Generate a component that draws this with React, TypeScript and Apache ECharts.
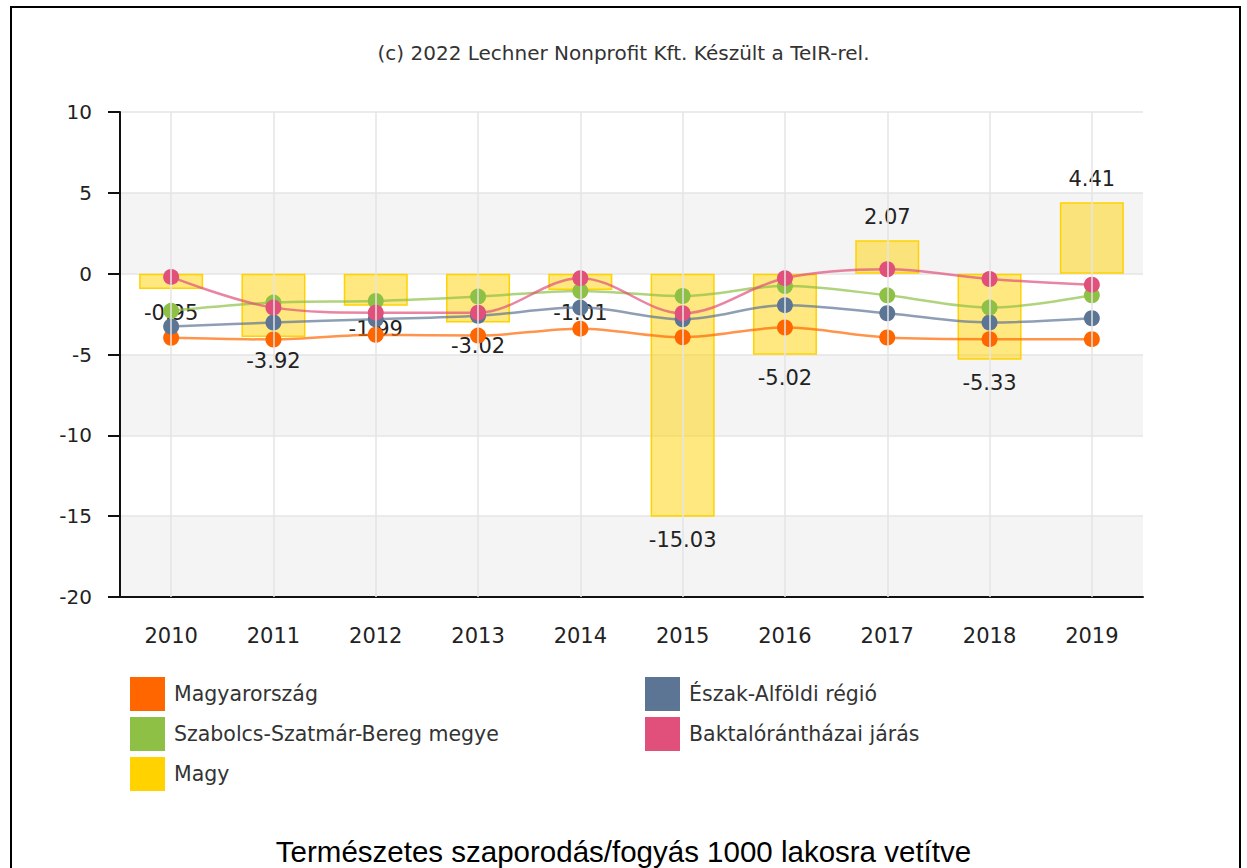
import React, { useEffect, useRef } from "react";
import * as echarts from "echarts";

const years = ["2010", "2011", "2012", "2013", "2014", "2015", "2016", "2017", "2018", "2019"];
const magyarorszag = [-3.97, -4.07, -3.78, -3.83, -3.4, -3.93, -3.33, -3.95, -4.05, -4.05];
const eszakAlfold = [-3.27, -3.02, -2.82, -2.61, -2.1, -2.82, -1.95, -2.45, -3.02, -2.76];
const szabolcs = [-2.3, -1.79, -1.69, -1.42, -1.07, -1.38, -0.76, -1.34, -2.1, -1.34];
const baktalo = [-0.2, -2.1, -2.41, -2.41, -0.28, -2.45, -0.28, 0.27, -0.33, -0.68];
const magy = [-0.95, -3.92, -1.99, -3.02, -1.01, -15.03, -5.02, 2.07, -5.33, 4.41];

const NAMES = {
  hu: "Magyarország",
  ea: "Észak-Alföldi régió",
  sz: "Szabolcs-Szatmár-Bereg megye",
  bj: "Baktalórántházai járás",
  mg: "Magy",
};

const COLORS = {
  hu: "#FF6600",
  ea: "#5C7595",
  sz: "#8FC046",
  bj: "#E0507A",
  mg: "#FFD200",
};

const FONT = "DejaVu Sans, Verdana, sans-serif";

export default function App() {
  const ref = useRef<HTMLDivElement>(null);

  useEffect(() => {
    if (!ref.current) return;
    const chart = echarts.init(ref.current, null, { renderer: "svg" });

    const lineSeries = (key: "hu" | "ea" | "sz" | "bj", data: number[]) => ({
      name: NAMES[key],
      type: "line",
      data,
      smooth: 0.35,
      symbol: "circle",
      symbolSize: 16,
      z: 3,
      itemStyle: { color: COLORS[key] },
      lineStyle: { color: COLORS[key], width: 2.5, opacity: 0.7 },
    });

    const legendText = { fontSize: 20.5, color: "#333", fontFamily: FONT, padding: [0, 0, 0, 4] };

    const option: any = {
      animation: false,
      backgroundColor: "#ffffff",
      grid: { left: 120, right: 104, top: 112, bottom: 271, containLabel: false },
      xAxis: {
        type: "category",
        data: years,
        boundaryGap: true,
        axisLine: { onZero: false, lineStyle: { color: "#111", width: 2 } },
        axisTick: { alignWithLabel: true, length: 9, lineStyle: { color: "#111", width: 2 } },
        axisLabel: { margin: 28, fontSize: 21, color: "#222", fontFamily: FONT },
        splitLine: { show: false },
      },
      yAxis: {
        type: "value",
        min: -20,
        max: 10,
        interval: 5,
        axisLine: { show: true, lineStyle: { color: "#111", width: 2 } },
        axisTick: { show: true, length: 12, lineStyle: { color: "#111", width: 2 } },
        axisLabel: { margin: 28, fontSize: 20, color: "#222", fontFamily: FONT },
        splitLine: { show: true, lineStyle: { color: "#e4e4e4", width: 1.5 } },
        splitArea: { show: true, areaStyle: { color: ["#f4f4f4", "#ffffff"] } },
      },
      legend: [
        {
          left: 130,
          top: 677,
          padding: 0,
          orient: "vertical",
          icon: "rect",
          itemWidth: 35,
          itemHeight: 34,
          itemGap: 6,
          selectedMode: false,
          data: [
            NAMES.hu,
            NAMES.sz,
            { name: NAMES.mg, itemStyle: { color: COLORS.mg, borderWidth: 0 } },
          ],
          textStyle: legendText,
        },
        {
          left: 645,
          top: 677,
          padding: 0,
          orient: "vertical",
          icon: "rect",
          itemWidth: 35,
          itemHeight: 34,
          itemGap: 6,
          selectedMode: false,
          data: [NAMES.ea, NAMES.bj],
          textStyle: legendText,
        },
      ],
      graphic: [
        {
          type: "rect",
          silent: true,
          shape: { x: 11, y: 7, width: 1229, height: 900 },
          style: { fill: "none", stroke: "#000", lineWidth: 2 },
          z: 100,
        },
        {
          type: "text",
          left: "center",
          top: 43,
          style: {
            text: "(c) 2022 Lechner Nonprofit Kft. Készült a TeIR-rel.",
            fontSize: 20,
            fontFamily: FONT,
            fill: "#333",
          },
        },
        {
          type: "text",
          left: "center",
          top: 836,
          style: {
            text: "Természetes szaporodás/fogyás 1000 lakosra vetítve",
            fontSize: 29.5,
            fontFamily: "Liberation Sans, Arial, sans-serif",
            fill: "#000",
          },
        },
      ],
      series: [
        {
          name: "grid-v",
          type: "line",
          data: years.map(() => null),
          silent: true,
          z: 1,
          markLine: {
            silent: true,
            symbol: "none",
            label: { show: false },
            lineStyle: { color: "#e4e4e4", width: 1.5, type: "solid" },
            data: years.map((y) => ({ xAxis: y })),
          },
        },
        {
          name: NAMES.mg,
          type: "bar",
          barWidth: 64,
          z: 2,
          data: magy.map((v) => ({
            value: v,
            label: { position: v < 0 ? "bottom" : "top" },
          })),
          itemStyle: {
            color: "rgba(255, 210, 0, 0.5)",
            borderColor: "#FFD200",
            borderWidth: 1.5,
          },
          label: {
            show: true,
            distance: 13,
            fontSize: 21,
            color: "#222",
            fontFamily: FONT,
            formatter: (p: any) => Number(p.value).toFixed(2),
          },
        },
        lineSeries("hu", magyarorszag),
        lineSeries("ea", eszakAlfold),
        lineSeries("sz", szabolcs),
        lineSeries("bj", baktalo),
      ],
    };

    chart.setOption(option);
    return () => chart.dispose();
  }, []);

  return (
    <div
      ref={ref}
      style={{ position: "fixed", left: 0, top: 0, width: 1247, height: 868, background: "#fff" }}
    />
  );
}
